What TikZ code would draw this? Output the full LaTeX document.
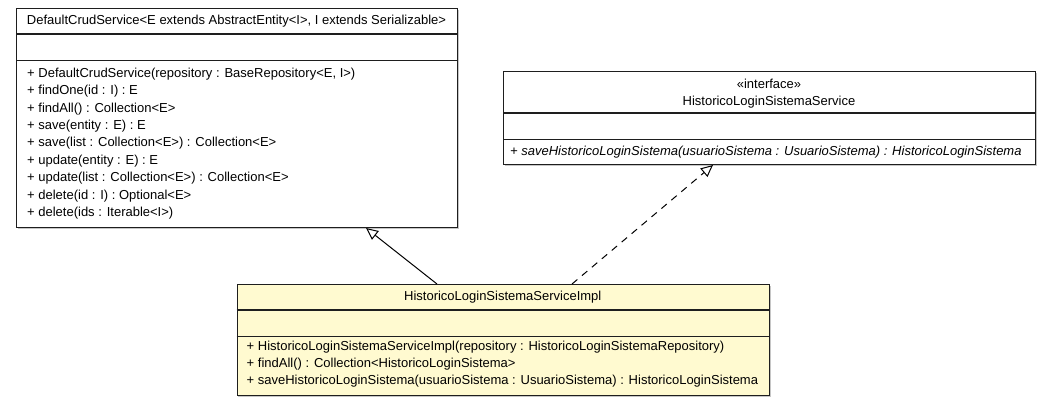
\documentclass[tikz,border=0pt]{standalone}
\usepackage{fontspec}
\setmainfont{Liberation Sans}
\usetikzlibrary{arrows.meta,shadows}
\definecolor{implfill}{RGB}{255,250,208}
\definecolor{boxline}{RGB}{30,30,30}
\begin{document}
\begin{tikzpicture}[x=1pt,y=-1pt,
  umlbox/.style={draw=boxline, line width=1pt, fill=white, anchor=north west, inner sep=0pt,
    drop shadow={shadow xshift=1.2pt, shadow yshift=-1.2pt, opacity=0.45, fill=gray}},
  headsep/.style={draw=boxline, line width=1.6pt},
  compsep/.style={draw=boxline, line width=0.9pt},
  txt/.style={inner sep=0pt, font=\fontsize{13pt}{15pt}\selectfont, text height=9.5pt, text depth=2.7pt},
  meth/.style={txt, anchor=west},
  gen/.style={draw=black, line width=1pt, -{Triangle[open, length=12pt, width=11pt, fill=white]}},
  real/.style={gen, dash pattern=on 7pt off 6pt}
]
\useasboundingbox (0,0) rectangle (1051,405);

% ---------------- DefaultCrudService ----------------
\node[umlbox, minimum width=441pt, minimum height=219pt] (crud) at (16,8) {};
\draw[headsep] (16,34) -- (457,34);
\draw[compsep] (16,60) -- (457,60);
\node[txt] (crudname) at (236.5,21.5) {DefaultCrudService<E extends AbstractEntity<I>, I extends Serializable>};
\node[meth] (c1) at (27,74.0) {+ DefaultCrudService(repository : BaseRepository<E, I>)};
\node[meth] (c2) at (27,91.4) {+ findOne(id : I) : E};
\node[meth] (c3) at (27,108.8) {+ findAll() : Collection<E>};
\node[meth] (c4) at (27,126.1) {+ save(entity : E) : E};
\node[meth] (c5) at (27,143.5) {+ save(list : Collection<E>) : Collection<E>};
\node[meth] (c6) at (27,160.9) {+ update(entity : E) : E};
\node[meth] (c7) at (27,178.3) {+ update(list : Collection<E>) : Collection<E>};
\node[meth] (c8) at (27,195.6) {+ delete(id : I) : Optional<E>};
\node[meth] (c9) at (27,213.0) {+ delete(ids : Iterable<I>)};

% ---------------- HistoricoLoginSistemaService ----------------
\node[umlbox, minimum width=532pt, minimum height=93pt] (iface) at (503,71) {};
\draw[headsep] (503,113) -- (1035,113);
\draw[compsep] (503,139) -- (1035,139);
\node[txt] (ifstereo) at (769,85.5) {«interface»};
\node[txt] (ifname) at (769,102.5) {HistoricoLoginSistemaService};
\node[meth] (i1) at (510,152) {\itshape + saveHistoricoLoginSistema(usuarioSistema : UsuarioSistema) : HistoricoLoginSistema};

% ---------------- HistoricoLoginSistemaServiceImpl ----------------
\node[umlbox, fill=implfill, minimum width=532.5pt, minimum height=111pt] (impl) at (236.5,284) {};
\draw[headsep] (236.5,310) -- (769,310);
\draw[compsep] (236.5,336) -- (769,336);
\node[txt] (implname) at (502.75,297.5) {HistoricoLoginSistemaServiceImpl};
\node[meth] (m1) at (246.5,347) {+ HistoricoLoginSistemaServiceImpl(repository : HistoricoLoginSistemaRepository)};
\node[meth] (m2) at (246.5,364) {+ findAll() : Collection<HistoricoLoginSistema>};
\node[meth] (m3) at (246.5,381) {+ saveHistoricoLoginSistema(usuarioSistema : UsuarioSistema) : HistoricoLoginSistema};

% ---------------- connectors ----------------
\path (impl.north west) ++(200.5,0) coordinate (implGen);
\path (crud.south west) ++(350,0) coordinate (crudGen);
\path (impl.north west) ++(335.5,0) coordinate (implReal);
\path (iface.south west) ++(210,0) coordinate (ifaceReal);
\draw[gen] (implGen) -- (crudGen);
\draw[real] (implReal) -- (ifaceReal);
\end{tikzpicture}
\end{document}
